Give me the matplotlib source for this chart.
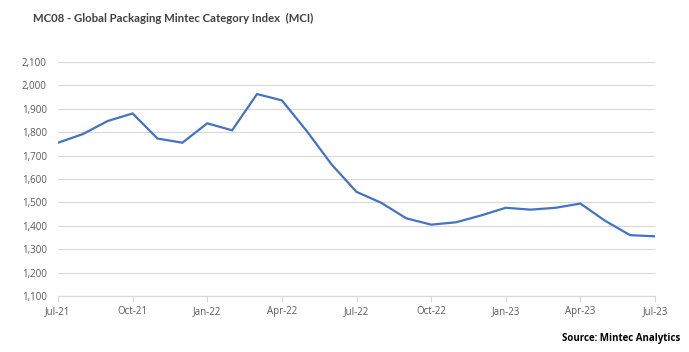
import matplotlib.pyplot as plt

# monthly index values, Jul-21 .. Jul-23
months = ['Jul-21', 'Aug-21', 'Sep-21', 'Oct-21', 'Nov-21', 'Dec-21',
          'Jan-22', 'Feb-22', 'Mar-22', 'Apr-22', 'May-22', 'Jun-22',
          'Jul-22', 'Aug-22', 'Sep-22', 'Oct-22', 'Nov-22', 'Dec-22',
          'Jan-23', 'Feb-23', 'Mar-23', 'Apr-23', 'May-23', 'Jun-23', 'Jul-23']
mci = [1755, 1792, 1848, 1880, 1773, 1755,
       1838, 1808, 1963, 1936, 1805, 1662,
       1545, 1498, 1432, 1405, 1415, 1444,
       1477, 1469, 1477, 1495, 1421, 1360, 1355]
yticks = list(range(1100, 2101, 100))

plt.rcParams['font.family'] = ['Open Sans', 'DejaVu Sans']

fig = plt.figure(figsize=(6.89, 3.52), dpi=100)
ax = fig.add_axes([58 / 689, 1 - 296 / 352, 597 / 689, 234 / 352])

x = list(range(len(mci)))
ax.plot(x, mci, color='#4472C4', linewidth=1.6, solid_joinstyle='miter', zorder=3)

ax.set_xlim(0, len(mci) - 1)
ax.set_ylim(1100, 2100)
ax.set_yticks(yticks)
ax.set_yticklabels([f'{v:,}' for v in yticks])
ax.set_xticks(x[::3])
ax.set_xticklabels(months[::3])

ax.grid(axis='y', color='#D9D9D9', linewidth=0.8)
ax.set_axisbelow(True)
for s in ['top', 'right', 'left']:
    ax.spines[s].set_visible(False)
ax.spines['bottom'].set_color('#D9D9D9')
ax.spines['bottom'].set_linewidth(0.8)
ax.tick_params(axis='y', length=0, labelsize=7, labelcolor='#595959', pad=8)
ax.tick_params(axis='x', length=4, color='#D9D9D9', labelsize=7, labelcolor='#595959', pad=3)

fig.text(33 / 689, 1 - 18 / 352, 'MC08 - Global Packaging Mintec Category Index  (MCI)',
         fontsize=8.2, fontweight='bold', family=['Lato', 'DejaVu Sans'],
         color='#404040', va='center', ha='left')
fig.text(680 / 689, 1 - 338 / 352, 'Source: Mintec Analytics',
         fontsize=7, fontweight='bold', color='black', va='center', ha='right')

fig.savefig('out.png', dpi=100, facecolor='white')
